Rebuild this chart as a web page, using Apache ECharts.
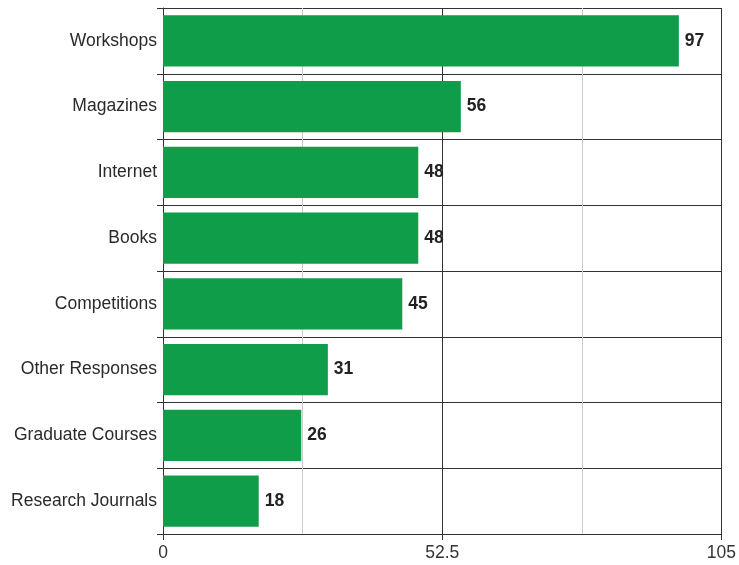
<!DOCTYPE html>
<html>
<head>
<meta charset="utf-8">
<script src="https://cdn.jsdelivr.net/npm/echarts@6/dist/echarts.min.js"></script>
<style>
html,body{margin:0;padding:0;background:#fff;}
#chart{width:739px;height:565px;}
</style>
</head>
<body>
<div id="chart"></div>
<script>
const categories = ["Workshops","Magazines","Internet","Books","Competitions","Other Responses","Graduate Courses","Research Journals"];
const values = [97, 56, 48, 48, 45, 31, 26, 18];
const axisMin = 0;
const axisMax = 105;
const gridInterval = 26.25;
const labelInterval = 52.5;

const chart = echarts.init(document.getElementById('chart'), null, {renderer: 'canvas'});
const font = '"Liberation Sans", Arial, sans-serif';
chart.setOption({
  animation: false,
  backgroundColor: '#ffffff',
  textStyle: {fontFamily: font},
  grid: {left: 163, right: 15, top: 8, bottom: 31, containLabel: false},
  xAxis: [
    {
      type: 'value', min: axisMin, max: axisMax, interval: gridInterval, position: 'bottom',
      axisLine: {show: false}, axisTick: {show: false}, axisLabel: {show: false},
      splitLine: {show: true, lineStyle: {color: ['#333333', '#cccccc'], width: 1}}
    },
    {
      type: 'value', min: axisMin, max: axisMax, interval: labelInterval, position: 'bottom',
      axisLine: {show: true, lineStyle: {color: '#333333', width: 1}},
      axisTick: {show: true, length: 6, lineStyle: {color: '#333333', width: 1}},
      axisLabel: {show: true, fontSize: 17.5, color: '#333333', margin: 10, fontFamily: font},
      splitLine: {show: false}
    }
  ],
  yAxis: {
    type: 'category', data: categories, inverse: true,
    axisLine: {show: true, lineStyle: {color: '#333333', width: 1}},
    axisTick: {show: true, length: 6, lineStyle: {color: '#333333', width: 1}},
    axisLabel: {fontSize: 17.5, color: '#2a2a2a', margin: 6, fontFamily: font},
    splitLine: {show: true, lineStyle: {color: '#333333', width: 1}}
  },
  series: [{
    type: 'bar', data: values, xAxisIndex: 0,
    barCategoryGap: '22%',
    itemStyle: {color: '#109d49'},
    label: {show: true, position: 'right', distance: 6, fontSize: 17.5, fontWeight: 'bold', color: '#222222', fontFamily: font}
  }]
});
</script>
</body>
</html>
